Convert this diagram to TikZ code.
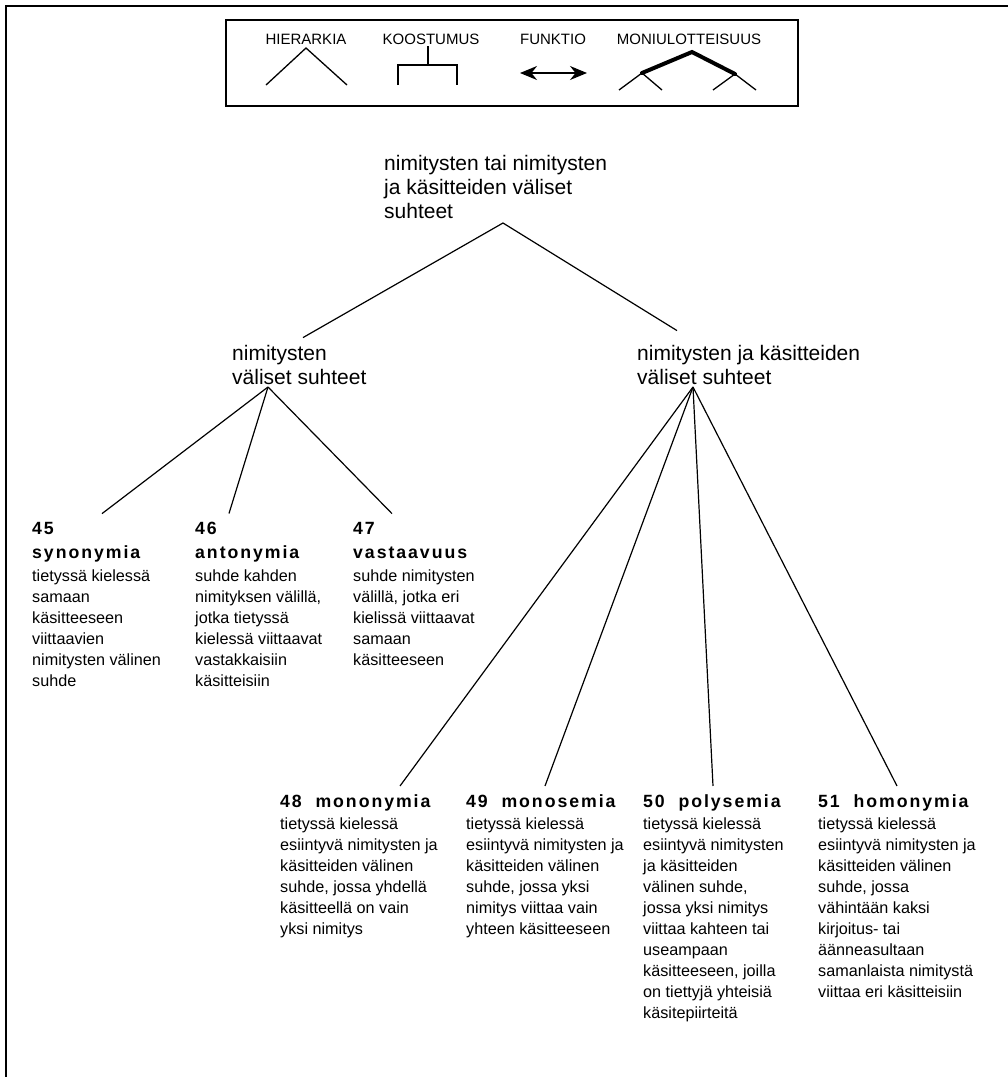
\documentclass[tikz,border=0pt]{standalone}
\usepackage{fontspec}
\setmainfont{Liberation Sans}
\newfontfamily\headfont{Liberation Sans}[LetterSpace=11]
\usetikzlibrary{arrows.meta}
\tikzset{
  frameline/.style={draw=black, line width=2pt},
  legbox/.style={draw=black, line width=1.5pt},
  leglabel/.style={anchor=base, inner sep=0pt, font=\fontsize{15}{18}\selectfont},
  legline/.style={draw=black, line width=1.3pt},
  legthick/.style={draw=black, line width=4pt, line cap=round},
  legarrow/.style={{Stealth[length=17pt,width=14pt]}-{Stealth[length=17pt,width=14pt]}, line width=1.3pt},
  toptext/.style={anchor=base west, inner sep=0pt, align=left,
    font=\fontsize{21}{24}\selectfont},
  leaf/.style={anchor=base west, inner sep=0pt, align=left,
    font=\fontsize{16.2}{21}\selectfont},
  branch/.style={draw=black, line width=1.2pt},
}
\newcommand{\hd}[1]{{\headfont\bfseries\fontsize{17.7}{21}\selectfont #1}}

\begin{document}
\begin{tikzpicture}[x=1pt, y=-1pt]
\clip (0,0) rectangle (1008,1077);
\draw[frameline] (6,6) rectangle (1100,1200);

% legend
\draw[legbox] (226,20) rectangle (798,106);
\node[leglabel] (hier) at (306,44) {HIERARKIA};
\node[leglabel] (koos) at (431,44) {KOOSTUMUS};
\node[leglabel] (funk) at (553,44) {FUNKTIO};
\node[leglabel] (moni) at (689,44) {MONIULOTTEISUUS};
\draw[legline] (266,85) -- (306,48) -- (347,85);
\draw[legline] (428,46) -- (428,65) (398,85) -- (398,65) -- (457,65) -- (457,85);
\draw[legarrow] (520,73) -- (587,73);
\draw[legline] (619,90) -- (642,73) -- (662,90) (713,90) -- (735,74) -- (756,90);
\draw[legthick] (642,73) -- (692,52) -- (735,74);

% upper levels (placed by the baseline of their last line)
\node[toptext] (root) at (384,218) {nimitysten tai nimitysten\\ja käsitteiden väliset\\suhteet};
\node[toptext] (nvs) at (232,384) {nimitysten\\väliset suhteet};
\node[toptext] (nks) at (637,384) {nimitysten ja käsitteiden\\väliset suhteet};

\coordinate (root-a) at ([shift={(119,5)}]root.base west);
\coordinate (nvs-a) at ([shift={(36,3)}]nvs.base west);
\coordinate (nks-a) at ([shift={(56,3)}]nks.base west);

% leaves
\node[leaf] (syn) at (32,686) {\hd{45}\\[3pt]\hd{synonymia}\\[2pt]
  tietyssä kielessä\\samaan\\käsitteeseen\\viittaavien\\nimitysten välinen\\suhde};
\node[leaf] (ant) at (195,686) {\hd{46}\\[3pt]\hd{antonymia}\\[2pt]
  suhde kahden\\nimityksen välillä,\\jotka tietyssä\\kielessä viittaavat\\vastakkaisiin\\käsitteisiin};
\node[leaf] (vas) at (353,665) {\hd{47}\\[3pt]\hd{vastaavuus}\\[2pt]
  suhde nimitysten\\välillä, jotka eri\\kielissä viittaavat\\samaan\\käsitteeseen};

\node[leaf] (mon) at (280,934) {\hd{48\ \ mononymia}\\[1pt]
  tietyssä kielessä\\esiintyvä nimitysten ja\\käsitteiden välinen\\suhde, jossa yhdellä\\käsitteellä on vain\\yksi nimitys};
\node[leaf] (mos) at (466,934) {\hd{49\ \ monosemia}\\[1pt]
  tietyssä kielessä\\esiintyvä nimitysten ja\\käsitteiden välinen\\suhde, jossa yksi\\nimitys viittaa vain\\yhteen käsitteeseen};
\node[leaf] (pol) at (643,1018) {\hd{50\ \ polysemia}\\[1pt]
  tietyssä kielessä\\esiintyvä nimitysten\\ja käsitteiden\\välinen suhde,\\jossa yksi nimitys\\viittaa kahteen tai\\useampaan\\käsitteeseen, joilla\\on tiettyjä yhteisiä\\käsitepiirteitä};
\node[leaf] (hom) at (818,997) {\hd{51\ \ homonymia}\\[1pt]
  tietyssä kielessä\\esiintyvä nimitysten ja\\käsitteiden välinen\\suhde, jossa\\vähintään kaksi\\kirjoitus- tai\\äänneasultaan\\samanlaista nimitystä\\viittaa eri käsitteisiin};

% connectors
\draw[branch] ([shift={(71,-7)}]nvs.north west) -- (root-a) -- ([shift={(40,-14)}]nks.north west);
\draw[branch] ([shift={(70,-8)}]syn.north west) -- (nvs-a);
\draw[branch] ([shift={(34,-8)}]ant.north west) -- (nvs-a);
\draw[branch] ([shift={(39,-8)}]vas.north west) -- (nvs-a);
\draw[branch] ([shift={(120,-8)}]mon.north west) -- (nks-a);
\draw[branch] ([shift={(79,-8)}]mos.north west) -- (nks-a);
\draw[branch] ([shift={(70,-8)}]pol.north west) -- (nks-a);
\draw[branch] ([shift={(79,-8)}]hom.north west) -- (nks-a);
\end{tikzpicture}
\end{document}
